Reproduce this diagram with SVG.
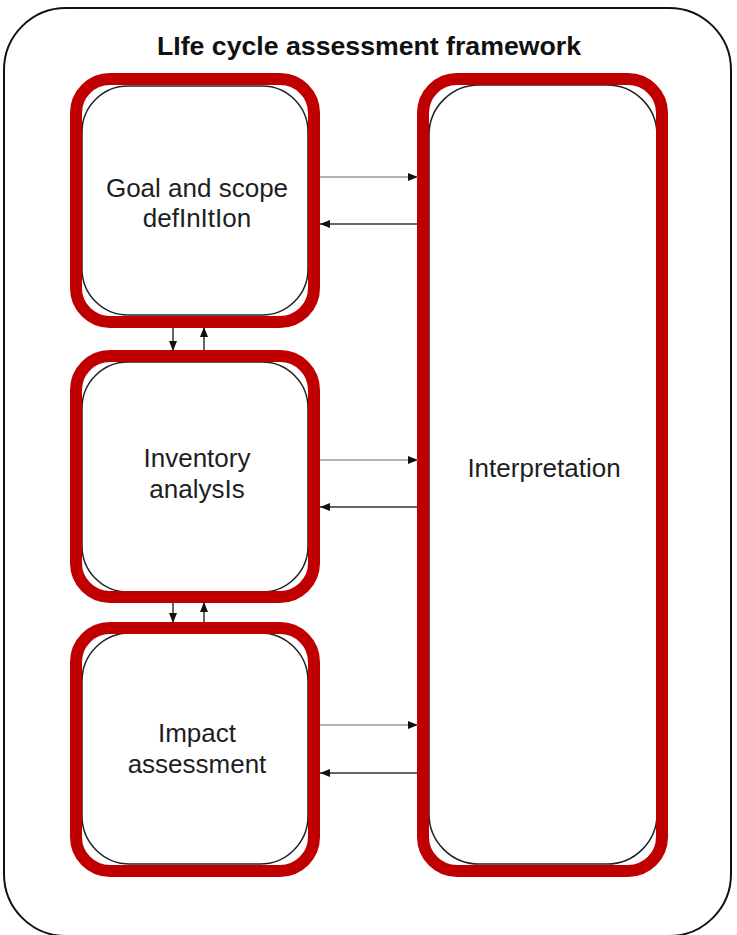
<svg xmlns="http://www.w3.org/2000/svg" width="737" height="935" viewBox="0 0 737 935">
  <style>
    .box { fill: #ffffff; stroke: #222222; stroke-width: 1.5; }
    .hl { fill: none; stroke: #c00000; stroke-width: 12; }
    .lbl { font-family: "Liberation Sans", Arial, sans-serif; font-size: 26px; fill: #1e1e1e; text-anchor: middle; }
    .title { font-family: "Liberation Sans", Arial, sans-serif; font-size: 26.5px; font-weight: bold; fill: #111111; text-anchor: middle; }
    .fwd { stroke: #9a9a9a; stroke-width: 1.5; fill: none; }
    .back { stroke: #333333; stroke-width: 1.5; fill: none; }
  </style>
  <defs>
    <marker id="ah" viewBox="0 0 10 8" refX="10" refY="4" markerWidth="10" markerHeight="8" markerUnits="userSpaceOnUse" orient="auto">
      <path d="M0,0 L10,4 L0,8 Z" fill="#111111"/>
    </marker>
  </defs>
  <rect width="737" height="935" fill="#ffffff"/>

  <g id="framework">
    <rect x="4" y="8" width="727" height="928" rx="62" ry="62" fill="none" stroke="#111111" stroke-width="2"/>
    <text class="title" x="369" y="55" textLength="424" lengthAdjust="spacingAndGlyphs">LIfe cycle assessment framework</text>
  </g>

  <g id="goal">
    <rect class="box" x="82" y="86" width="226" height="229" rx="46" ry="46"/>
    <rect class="hl" x="76" y="79" width="238" height="243" rx="34" ry="34"/>
    <text class="lbl" x="197" y="197">Goal and scope</text>
    <text class="lbl" x="197" y="227">defInItIon</text>
  </g>

  <g id="inventory">
    <rect class="box" x="82" y="362" width="226" height="230" rx="46" ry="46"/>
    <rect class="hl" x="76" y="356" width="238" height="241" rx="34" ry="34"/>
    <text class="lbl" x="197" y="467">Inventory</text>
    <text class="lbl" x="197" y="498">analysIs</text>
  </g>

  <g id="impact">
    <rect class="box" x="82" y="633" width="226" height="231" rx="48" ry="48"/>
    <rect class="hl" x="76" y="628" width="238" height="243" rx="34" ry="34"/>
    <text class="lbl" x="197" y="742">Impact</text>
    <text class="lbl" x="197" y="773">assessment</text>
  </g>

  <g id="interpretation">
    <rect class="box" x="429" y="85" width="228" height="779" rx="50" ry="50"/>
    <rect class="hl" x="423" y="79" width="239" height="792" rx="34" ry="34"/>
    <text class="lbl" x="544" y="477">Interpretation</text>
  </g>

  <g id="connectors">
    <line class="fwd" x1="320" y1="177" x2="418" y2="177" marker-end="url(#ah)"/>
    <line class="back" x1="417" y1="224" x2="320" y2="224" marker-end="url(#ah)"/>
    <line class="fwd" x1="320" y1="460" x2="418" y2="460" marker-end="url(#ah)"/>
    <line class="back" x1="417" y1="507" x2="320" y2="507" marker-end="url(#ah)"/>
    <line class="fwd" x1="320" y1="725" x2="418" y2="725" marker-end="url(#ah)"/>
    <line class="back" x1="417" y1="773" x2="320" y2="773" marker-end="url(#ah)"/>
    <line class="back" x1="173" y1="328" x2="173" y2="351" marker-end="url(#ah)"/>
    <line class="back" x1="204" y1="350" x2="204" y2="327" marker-end="url(#ah)"/>
    <line class="back" x1="173" y1="603" x2="173" y2="623" marker-end="url(#ah)"/>
    <line class="back" x1="204" y1="622" x2="204" y2="602" marker-end="url(#ah)"/>
  </g>
</svg>
